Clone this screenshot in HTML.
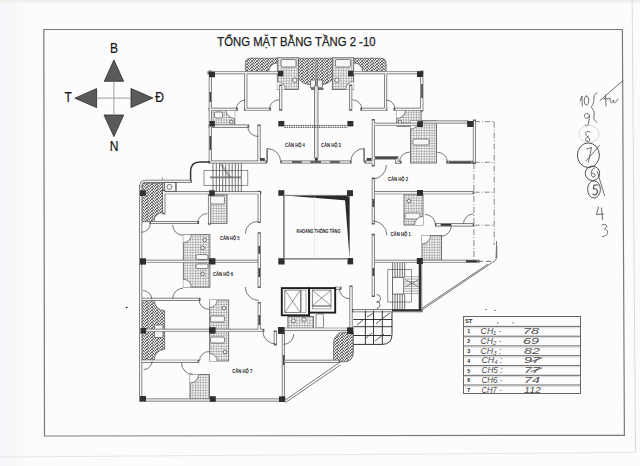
<!DOCTYPE html>
<html><head><meta charset="utf-8"><style>
html,body{margin:0;padding:0;background:#fcfcfd;}
svg{display:block;}
text{font-family:"Liberation Sans",sans-serif;}
</style></head><body>
<svg width="640" height="466" viewBox="0 0 640 466">
<defs>
<pattern id="hb" width="5" height="3" patternUnits="userSpaceOnUse">
<rect width="5" height="3" fill="#f6f6f6"/><path d="M-0.2,3.2 L2.7,-0.2 M2.3,1.3 L5.2,4.7 M2.3,-1.7 L5.2,1.7" fill="none" stroke="#262626" stroke-width="0.95"/>
</pattern>
<pattern id="tile" width="2.6" height="2.6" patternUnits="userSpaceOnUse">
<rect width="2.6" height="2.6" fill="#f2f2f2"/><path d="M0,0 H2.6 M0,0 V2.6" fill="none" stroke="#4a4a4a" stroke-width="0.55"/>
</pattern>
</defs>
<defs><linearGradient id="lg" x1="0" x2="1" y1="0" y2="0"><stop offset="0" stop-color="#f4f5f8"/><stop offset="1" stop-color="#fcfcfd"/></linearGradient></defs>
<rect width="640" height="466" fill="#fcfcfd"/>
<rect width="30" height="466" fill="url(#lg)"/>
<rect width="640" height="2.5" fill="#f1efeb"/>
<line x1="632.2" y1="0" x2="635.5" y2="452.5" stroke="#dcdcdc" stroke-width="1"/>
<line x1="0" y1="457" x2="635.5" y2="452.5" stroke="#e6e6e6" stroke-width="1"/>
<polygon points="43.8,29.5 622.4,29.5 624.4,435.3 44.5,436" fill="none" stroke="#7a7a7a" stroke-width="1.2"/>
<text x="217.3" y="45.9" font-family="Liberation Sans" font-size="13.3" fill="#202020" textLength="158.2" lengthAdjust="spacingAndGlyphs" stroke="#202020" stroke-width="0.25">TỔNG MẶT BẰNG TẦNG 2 -10</text>
<g fill="#5a5a5a" stroke="#2a2a2a" stroke-width="0.8" stroke-linejoin="round">
<polygon points="113.9,59.9 104.3,81.3 123.6,81.3"/>
<polygon points="113.9,136.6 104,115 123.7,115"/>
<polygon points="74.9,98.2 96.6,88.6 96.6,107.6"/>
<polygon points="152.8,98 131,88.5 131,107.6"/>
</g>
<line x1="113.9" y1="81" x2="113.9" y2="115" stroke="#9a9a9a" stroke-width="1"/>
<line x1="96.7" y1="98.1" x2="131" y2="98.1" stroke="#9a9a9a" stroke-width="1"/>
<text transform="translate(114.05,52.7) scale(0.86,1)" font-family="Liberation Sans" font-size="14" fill="#151515" text-anchor="middle" stroke="#151515" stroke-width="0.2">B</text>
<text transform="translate(68.1,102.3) scale(0.86,1)" font-family="Liberation Sans" font-size="14" fill="#151515" text-anchor="middle" stroke="#151515" stroke-width="0.2">T</text>
<text transform="translate(159.6,102.4) scale(0.86,1)" font-family="Liberation Sans" font-size="14" fill="#151515" text-anchor="middle" stroke="#151515" stroke-width="0.2">Đ</text>
<text transform="translate(114.05,150.7) scale(0.86,1)" font-family="Liberation Sans" font-size="14" fill="#151515" text-anchor="middle" stroke="#151515" stroke-width="0.2">N</text>
<path d="M245.3,71.6 V63.4 Q245.3,58.2 250.5,58.2 H277.3 V63 A8.6,8.6 0 0 0 268.7,71.6 Z" fill="url(#hb)" stroke="#555" stroke-width="0.7"/>
<path d="M386.1,71.6 V63.4 Q386.1,58.2 380.9,58.2 H354.1 V63 A8.6,8.6 0 0 1 362.7,71.6 Z" fill="url(#hb)" stroke="#555" stroke-width="0.7"/>
<path d="M298.5,58.2 H332.9 V78.9 Q328,84.5 322.3,84.5 H309.1 Q303.4,84.5 298.5,78.9 Z" fill="url(#hb)" stroke="#555" stroke-width="0.7"/>
<line x1="316" y1="58.5" x2="316" y2="84" stroke="#888" stroke-width="0.8"/>
<path d="M141.3,221.7 V186.5 Q141.3,183 145,183 H163 V212.5 A9,9 0 0 0 154,221.7 Z" fill="url(#hb)" stroke="#555" stroke-width="0.7"/>
<path d="M140.8,300 H154.4 A10.2,10.2 0 0 0 164.6,310.6 V349.4 A10.2,10.2 0 0 0 154.4,360 H140.8 Z" fill="url(#hb)" stroke="#555" stroke-width="0.7"/>
<path d="M341.6,332.3 H353.4 V352.2 Q353.4,361.8 343.8,361.8 H333.6 V341.4 Q336,333.5 341.6,332.3 Z" fill="url(#hb)" stroke="#555" stroke-width="0.7"/>
<rect x="154.5" y="325" width="8.5" height="12.5" fill="#f4f4f4" stroke="#555" stroke-width="0.7"/>
<rect x="310.4" y="80" width="5" height="7.6" fill="#f4f4f4" stroke="#555" stroke-width="0.7"/>
<rect x="317.3" y="80" width="5" height="7.6" fill="#f4f4f4" stroke="#555" stroke-width="0.7"/>
<rect x="311" y="88.3" width="12.5" height="1.4" fill="#333"/>
<rect x="315.3" y="89.5" width="1.4" height="5" fill="#333"/>
<rect x="164.4" y="182.5" width="11.8" height="8.8" fill="#fafafa" stroke="#555" stroke-width="0.8"/>
<line x1="175.6" y1="183" x2="175.6" y2="191" stroke="#888" stroke-width="1.2"/>
<rect x="210.5" y="109.5" width="24.3" height="16.8" fill="url(#tile)" stroke="#555" stroke-width="0.8"/>
<rect x="396.8" y="109.5" width="24.3" height="16.8" fill="url(#tile)" stroke="#555" stroke-width="0.8"/>
<rect x="277.3" y="57.8" width="21.2" height="31.7" fill="url(#tile)" stroke="#555" stroke-width="0.8"/>
<rect x="332.3" y="57.8" width="21.4" height="31.7" fill="url(#tile)" stroke="#555" stroke-width="0.8"/>
<rect x="410.5" y="121" width="26" height="42" fill="url(#tile)" stroke="#555" stroke-width="0.8"/>
<rect x="404" y="194" width="19" height="31" fill="url(#tile)" stroke="#555" stroke-width="0.8"/>
<rect x="422" y="235.4" width="19.6" height="24.8" fill="url(#tile)" stroke="#555" stroke-width="0.8"/>
<rect x="209.8" y="194" width="17.2" height="29.3" fill="url(#tile)" stroke="#555" stroke-width="0.8"/>
<rect x="183.3" y="234.7" width="26.6" height="52.5" fill="url(#tile)" stroke="#555" stroke-width="0.8"/>
<rect x="209.7" y="300" width="19" height="61" fill="url(#tile)" stroke="#555" stroke-width="0.8"/>
<rect x="190" y="374.5" width="19.5" height="25.5" fill="url(#tile)" stroke="#555" stroke-width="0.8"/>
<rect x="287.9" y="316.4" width="25.6" height="13.1" fill="url(#tile)" stroke="#555" stroke-width="0.8"/>
<rect x="281" y="59.5" width="15" height="7.5" fill="#f7f7f7" stroke="#555" stroke-width="0.7" rx="1.5"/>
<rect x="335.5" y="59.5" width="15" height="7.5" fill="#f7f7f7" stroke="#555" stroke-width="0.7" rx="1.5"/>
<rect x="413" y="139" width="16" height="6" fill="#f7f7f7" stroke="#555" stroke-width="0.7" rx="1.5"/>
<rect x="210.5" y="316" width="14" height="6" fill="#f7f7f7" stroke="#555" stroke-width="0.7" rx="1.5"/>
<rect x="210.5" y="337" width="14" height="6" fill="#f7f7f7" stroke="#555" stroke-width="0.7" rx="1.5"/>
<rect x="196" y="254.6" width="12" height="4.9" fill="#f7f7f7" stroke="#555" stroke-width="0.7" rx="1.5"/>
<rect x="196" y="264" width="12" height="4.6" fill="#f7f7f7" stroke="#555" stroke-width="0.7" rx="1.5"/>
<rect x="210.5" y="196" width="14" height="8" fill="#f7f7f7" stroke="#555" stroke-width="0.7" rx="1.5"/>
<rect x="405" y="213" width="15" height="6" fill="#f7f7f7" stroke="#555" stroke-width="0.7" rx="1.5"/>
<rect x="316" y="314" width="7.5" height="14" fill="#f7f7f7" stroke="#555" stroke-width="0.7" rx="1.5"/>
<rect x="214.5" y="112" width="8" height="6" fill="#f7f7f7" stroke="#555" stroke-width="0.7" rx="1.5"/>
<circle cx="294.8" cy="80.1" r="2.2" fill="#f7f7f7" stroke="#444" stroke-width="0.7"/>
<circle cx="337" cy="80.1" r="2.2" fill="#f7f7f7" stroke="#444" stroke-width="0.7"/>
<circle cx="169.4" cy="186.9" r="2.5" fill="#f7f7f7" stroke="#444" stroke-width="0.7"/>
<circle cx="293.5" cy="320.8" r="2" fill="#f7f7f7" stroke="#444" stroke-width="0.7"/>
<circle cx="304" cy="319.5" r="2" fill="#f7f7f7" stroke="#444" stroke-width="0.7"/>
<circle cx="204.6" cy="240" r="1.8" fill="#f7f7f7" stroke="#444" stroke-width="0.7"/>
<circle cx="202.6" cy="248" r="1.8" fill="#f7f7f7" stroke="#444" stroke-width="0.7"/>
<circle cx="202.6" cy="274" r="1.8" fill="#f7f7f7" stroke="#444" stroke-width="0.7"/>
<circle cx="225" cy="352" r="1.8" fill="#f7f7f7" stroke="#444" stroke-width="0.7"/>
<circle cx="425" cy="241" r="1.8" fill="#f7f7f7" stroke="#444" stroke-width="0.7"/>
<circle cx="409" cy="201" r="1.8" fill="#f7f7f7" stroke="#444" stroke-width="0.7"/>
<circle cx="224" cy="308" r="1.8" fill="#f7f7f7" stroke="#444" stroke-width="0.7"/>
<circle cx="231.5" cy="122" r="1.8" fill="#f7f7f7" stroke="#444" stroke-width="0.7"/>
<circle cx="400" cy="122" r="1.8" fill="#f7f7f7" stroke="#444" stroke-width="0.7"/>
<path d="M234.8,109.5 L234.8,118.5 A9,9 0 0 1 225.8,109.5 Z" fill="#fcfcfd" stroke="none"/>
<path d="M234.8,118.5 A9,9 0 0 1 225.8,109.5" fill="none" stroke="#555" stroke-width="0.7"/>
<path d="M396.6,109.5 L396.6,118.5 A9,9 0 0 0 405.6,109.5 Z" fill="#fcfcfd" stroke="none"/>
<path d="M396.6,118.5 A9,9 0 0 0 405.6,109.5" fill="none" stroke="#555" stroke-width="0.7"/>
<path d="M422.0,235.4 L430.5,235.4 A8.5,8.5 0 0 1 422.0,243.9 Z" fill="#fcfcfd" stroke="none"/>
<path d="M430.5,235.4 A8.5,8.5 0 0 1 422.0,243.9" fill="none" stroke="#555" stroke-width="0.7"/>
<path d="M190.0,374.5 L198.5,374.5 A8.5,8.5 0 0 1 190.0,383.0 Z" fill="#fcfcfd" stroke="none"/>
<path d="M198.5,374.5 A8.5,8.5 0 0 1 190.0,383.0" fill="none" stroke="#555" stroke-width="0.7"/>
<path d="M277.3,89.5 L277.3,81.5 A8,8 0 0 1 285.3,89.5 Z" fill="#fcfcfd" stroke="none"/>
<path d="M277.3,81.5 A8,8 0 0 1 285.3,89.5" fill="none" stroke="#555" stroke-width="0.7"/>
<path d="M353.7,89.5 L353.7,81.5 A8,8 0 0 0 345.7,89.5 Z" fill="#fcfcfd" stroke="none"/>
<path d="M353.7,81.5 A8,8 0 0 0 345.7,89.5" fill="none" stroke="#555" stroke-width="0.7"/>
<path d="M209.7,300.0 L217.2,300.0 A7.5,7.5 0 0 1 209.7,307.5 Z" fill="#fcfcfd" stroke="none"/>
<path d="M217.2,300.0 A7.5,7.5 0 0 1 209.7,307.5" fill="none" stroke="#555" stroke-width="0.7"/>
<path d="M209.7,361.0 L217.2,361.0 A7.5,7.5 0 0 0 209.7,353.5 Z" fill="#fcfcfd" stroke="none"/>
<path d="M217.2,361.0 A7.5,7.5 0 0 0 209.7,353.5" fill="none" stroke="#555" stroke-width="0.7"/>
<path d="M183.3,234.7 L191.3,234.7 A8,8 0 0 1 183.3,242.7 Z" fill="#fcfcfd" stroke="none"/>
<path d="M191.3,234.7 A8,8 0 0 1 183.3,242.7" fill="none" stroke="#555" stroke-width="0.7"/>
<path d="M183.3,287.2 L191.3,287.2 A8,8 0 0 0 183.3,279.2 Z" fill="#fcfcfd" stroke="none"/>
<path d="M191.3,287.2 A8,8 0 0 0 183.3,279.2" fill="none" stroke="#555" stroke-width="0.7"/>
<path d="M423.0,225.0 L423.0,216.5 A8.5,8.5 0 0 0 414.5,225.0 Z" fill="#fcfcfd" stroke="none"/>
<path d="M423.0,216.5 A8.5,8.5 0 0 0 414.5,225.0" fill="none" stroke="#555" stroke-width="0.7"/>
<path d="M410.5,121.0 L418.5,121.0 A8,8 0 0 1 410.5,129.0 Z" fill="#fcfcfd" stroke="none"/>
<path d="M418.5,121.0 A8,8 0 0 1 410.5,129.0" fill="none" stroke="#555" stroke-width="0.7"/>
<path d="M287.9,316.4 L288.0,316.4 A0.1,0.1 0 0 1 287.9,316.5 Z" fill="#fcfcfd" stroke="none"/>
<path d="M288.0,316.4 A0.1,0.1 0 0 1 287.9,316.5" fill="none" stroke="#555" stroke-width="0.7"/>
<path d="M209.0,72.7L278.0,72.7 M353.0,72.7L422.0,72.7 M210.3,72.0L210.3,162.0 M421.8,72.0L421.8,110.0 M245.8,73.0L245.8,109.3 M385.6,73.0L385.6,109.3 M280.7,86.0L280.7,109.3 M350.7,86.0L350.7,109.3 M210.0,109.3L236.4,109.3 M421.4,109.3L395.0,109.3 M245.6,109.3L269.5,109.3 M385.8,109.3L361.9,109.3 M210.0,126.1L247.7,126.1 M259.0,126.0L259.0,161.5 M210.0,162.0L265.5,162.0 M282.0,162.0L350.0,162.0 M366.0,162.0L373.0,162.0 M373.3,120.5L373.3,165.0 M373.3,179.0L373.3,223.0 M373.3,235.4L373.3,295.4 M373.8,124.3L417.0,124.3 M373.8,157.9L396.8,157.9 M396.8,157.9L396.8,162.3 M396.8,162.3L400.0,162.3 M423.0,122.0L467.0,122.0 M447.8,162.3L472.0,162.3 M474.4,121.0L474.4,162.5 M374.7,192.8L472.6,192.8 M436.5,224.9L472.6,224.9 M374.7,261.3L478.0,261.3 M420.6,264.0L420.6,310.4 M353.3,310.6L421.0,310.6 M163.0,192.8L259.8,192.8 M259.2,192.4L259.2,221.5 M259.2,233.7L259.2,286.5 M259.2,303.5L259.2,330.0 M140.7,186.5L140.7,400.0 M163.8,191.0L163.8,212.8 M151.0,222.5L197.6,222.5 M209.5,196.0L209.5,223.3 M146.0,261.3L257.5,261.3 M142.0,299.4L199.0,299.4 M146.0,330.3L262.8,330.3 M142.0,361.2L197.6,361.2 M146.0,400.0L279.0,400.0 M283.4,334.0L283.4,396.4 M275.3,332.0L275.3,344.0 M351.0,287.0L351.0,328.0 M336.0,288.2L340.0,288.2 M284.0,329.2L347.0,329.2 M284.4,361.4L338.7,361.4" fill="none" stroke="#5c5c5c" stroke-width="3.1" stroke-linecap="square"/>
<path d="M209.0,72.7L278.0,72.7 M353.0,72.7L422.0,72.7 M210.3,72.0L210.3,162.0 M421.8,72.0L421.8,110.0 M245.8,73.0L245.8,109.3 M385.6,73.0L385.6,109.3 M280.7,86.0L280.7,109.3 M350.7,86.0L350.7,109.3 M210.0,109.3L236.4,109.3 M421.4,109.3L395.0,109.3 M245.6,109.3L269.5,109.3 M385.8,109.3L361.9,109.3 M210.0,126.1L247.7,126.1 M259.0,126.0L259.0,161.5 M210.0,162.0L265.5,162.0 M282.0,162.0L350.0,162.0 M366.0,162.0L373.0,162.0 M373.3,120.5L373.3,165.0 M373.3,179.0L373.3,223.0 M373.3,235.4L373.3,295.4 M373.8,124.3L417.0,124.3 M373.8,157.9L396.8,157.9 M396.8,157.9L396.8,162.3 M396.8,162.3L400.0,162.3 M423.0,122.0L467.0,122.0 M447.8,162.3L472.0,162.3 M474.4,121.0L474.4,162.5 M374.7,192.8L472.6,192.8 M436.5,224.9L472.6,224.9 M374.7,261.3L478.0,261.3 M420.6,264.0L420.6,310.4 M353.3,310.6L421.0,310.6 M163.0,192.8L259.8,192.8 M259.2,192.4L259.2,221.5 M259.2,233.7L259.2,286.5 M259.2,303.5L259.2,330.0 M140.7,186.5L140.7,400.0 M163.8,191.0L163.8,212.8 M151.0,222.5L197.6,222.5 M209.5,196.0L209.5,223.3 M146.0,261.3L257.5,261.3 M142.0,299.4L199.0,299.4 M146.0,330.3L262.8,330.3 M142.0,361.2L197.6,361.2 M146.0,400.0L279.0,400.0 M283.4,334.0L283.4,396.4 M275.3,332.0L275.3,344.0 M351.0,287.0L351.0,328.0 M336.0,288.2L340.0,288.2 M284.0,329.2L347.0,329.2 M284.4,361.4L338.7,361.4" fill="none" stroke="#f3f3f3" stroke-width="1.7" stroke-linecap="butt"/>
<rect x="209" y="71.8" width="6" height="5.4" fill="#2f2f2f"/>
<rect x="417" y="71.2" width="6" height="5.8" fill="#2f2f2f"/>
<rect x="209.5" y="121" width="5.4" height="5.6" fill="#2f2f2f"/>
<rect x="278.3" y="121" width="6" height="5.4" fill="#2f2f2f"/>
<rect x="347.4" y="121" width="6" height="5.4" fill="#2f2f2f"/>
<rect x="277.9" y="70.8" width="5.4" height="5.6" fill="#2f2f2f"/>
<rect x="348.1" y="70.8" width="5.4" height="5.6" fill="#2f2f2f"/>
<rect x="417.2" y="121.3" width="5.7" height="5.7" fill="#2f2f2f"/>
<rect x="467.2" y="121" width="6.4" height="6" fill="#2f2f2f"/>
<rect x="140" y="190.3" width="5.8" height="5.6" fill="#2f2f2f"/>
<rect x="209.2" y="190.2" width="5.6" height="5.6" fill="#2f2f2f"/>
<rect x="278.3" y="190.2" width="6" height="5.6" fill="#2f2f2f"/>
<rect x="347" y="190.2" width="6" height="6" fill="#2f2f2f"/>
<rect x="417" y="190" width="6" height="5.8" fill="#2f2f2f"/>
<rect x="140" y="258.3" width="6" height="6.3" fill="#2f2f2f"/>
<rect x="208.8" y="258.2" width="6.6" height="6.3" fill="#2f2f2f"/>
<rect x="278.3" y="258.2" width="6.3" height="6.3" fill="#2f2f2f"/>
<rect x="347.5" y="258" width="5.6" height="6.4" fill="#2f2f2f"/>
<rect x="416.8" y="258" width="6" height="6" fill="#2f2f2f"/>
<rect x="140.5" y="328" width="5.6" height="5.6" fill="#2f2f2f"/>
<rect x="209" y="327.2" width="6.6" height="6.4" fill="#2f2f2f"/>
<rect x="278" y="327" width="6.6" height="6.9" fill="#2f2f2f"/>
<rect x="347.1" y="327.4" width="6.3" height="6.6" fill="#2f2f2f"/>
<rect x="140" y="396" width="6" height="5.6" fill="#2f2f2f"/>
<rect x="209.8" y="396.2" width="6" height="5.6" fill="#2f2f2f"/>
<rect x="279" y="396.4" width="6.3" height="5.6" fill="#2f2f2f"/>
<rect x="315" y="156" width="2.8" height="4.7" fill="#2f2f2f"/>
<rect x="315.2" y="89.5" width="1.6" height="5" fill="#2f2f2f"/>
<path d="M236.3,109.3 A9.3,9.3 0 0 1 245.6,100.0" fill="none" stroke="#555" stroke-width="0.8"/>
<path d="M269.5,109.3 A9.5,9.5 0 0 1 279.0,99.8" fill="none" stroke="#555" stroke-width="0.8"/>
<path d="M395.1,109.3 A9.3,9.3 0 0 0 385.8,100.0" fill="none" stroke="#555" stroke-width="0.8"/>
<path d="M361.9,109.3 A9.5,9.5 0 0 0 352.4,99.8" fill="none" stroke="#555" stroke-width="0.8"/>
<path d="M247.7,126.0 A10.5,10.5 0 0 0 258.2,136.5" fill="none" stroke="#555" stroke-width="0.8"/>
<path d="M267.2,148.5 A13.5,13.5 0 0 1 280.7,162.0" fill="none" stroke="#555" stroke-width="0.8"/>
<path d="M267.2,162.0 L267.2,148.5" stroke="#444" stroke-width="1.6" fill="none"/><path d="M267.2,162.0 L267.2,148.5" stroke="#eee" stroke-width="0.5" fill="none"/>
<path d="M364.2,148.5 A13.5,13.5 0 0 0 350.7,162.0" fill="none" stroke="#555" stroke-width="0.8"/>
<path d="M364.2,162.0 L364.2,148.5" stroke="#444" stroke-width="1.6" fill="none"/><path d="M364.2,162.0 L364.2,148.5" stroke="#eee" stroke-width="0.5" fill="none"/>
<path d="M197.6,223.3 A9.7,9.7 0 0 1 207.3,213.6" fill="none" stroke="#555" stroke-width="0.8"/>
<path d="M150.3,223.3 A9,9 0 0 1 141.3,232.3" fill="none" stroke="#555" stroke-width="0.8"/>
<path d="M172.7,225.0 A10.3,10.3 0 0 0 183.0,235.3" fill="none" stroke="#555" stroke-width="0.8"/>
<path d="M172.7,298.6 A10.3,10.3 0 0 1 183.0,288.3" fill="none" stroke="#555" stroke-width="0.8"/>
<path d="M143.0,290.6 A8.8,8.8 0 0 1 151.8,299.4" fill="none" stroke="#555" stroke-width="0.8"/>
<path d="M199.0,299.4 A10,10 0 0 0 209.0,309.4" fill="none" stroke="#555" stroke-width="0.8"/>
<path d="M199.5,361.0 A9.5,9.5 0 0 1 209.0,351.5" fill="none" stroke="#555" stroke-width="0.8"/>
<path d="M152.2,361.0 A8.5,8.5 0 0 1 143.7,369.5" fill="none" stroke="#555" stroke-width="0.8"/>
<path d="M181.5,363.0 A11.3,11.3 0 0 0 192.8,374.3" fill="none" stroke="#555" stroke-width="0.8"/>
<path d="M258.8,300.5 A13.5,13.5 0 0 1 245.3,287.0" fill="none" stroke="#555" stroke-width="0.8"/>
<path d="M262.8,331.0 A12.9,12.9 0 0 0 275.7,343.9" fill="none" stroke="#555" stroke-width="0.8"/>
<path d="M257.5,221.5 A12.2,12.2 0 0 0 245.3,233.7" fill="none" stroke="#555" stroke-width="0.8"/>
<path d="M293.8,334.0 A10.4,10.4 0 0 1 283.4,344.4" fill="none" stroke="#555" stroke-width="0.8"/>
<path d="M339.3,288.3 A10.5,10.5 0 0 0 349.8,298.8" fill="none" stroke="#555" stroke-width="0.8"/>
<path d="M386.4,165.0 A14,14 0 0 1 372.4,179.0" fill="none" stroke="#555" stroke-width="0.8"/>
<path d="M372.4,220.9 A14.5,14.5 0 0 1 386.9,235.4" fill="none" stroke="#555" stroke-width="0.8"/>
<path d="M425.0,214.5 A10.5,10.5 0 0 1 435.5,225.0" fill="none" stroke="#555" stroke-width="0.8"/>
<path d="M451.3,225.7 A10.6,10.6 0 0 1 440.7,236.3" fill="none" stroke="#555" stroke-width="0.8"/>
<path d="M463.5,224.0 A10,10 0 0 1 473.5,214.0" fill="none" stroke="#555" stroke-width="0.8"/>
<path d="M399.5,162.3 A10.2,10.2 0 0 1 409.7,152.1" fill="none" stroke="#555" stroke-width="0.8"/>
<path d="M437.4,152.3 A10,10 0 0 1 447.4,162.3" fill="none" stroke="#555" stroke-width="0.8"/>
<path d="M376.5,294.5 A4,4 0 0 1 376.5,302.5" fill="none" stroke="#555" stroke-width="0.8"/>
<path d="M376.5,301.5 A3.5,3.5 0 0 1 376.5,308.5" fill="none" stroke="#555" stroke-width="0.8"/>
<rect x="204" y="170.4" width="43.8" height="15.1" fill="none" stroke="#666" stroke-width="0.7"/>
<line x1="213" y1="163.2" x2="213" y2="191.9" stroke="#444" stroke-width="0.75"/>
<line x1="216.3" y1="163.2" x2="216.3" y2="191.9" stroke="#444" stroke-width="0.75"/>
<line x1="219.5" y1="163.2" x2="219.5" y2="191.9" stroke="#444" stroke-width="0.75"/>
<line x1="222.7" y1="163.2" x2="222.7" y2="191.9" stroke="#444" stroke-width="0.75"/>
<line x1="225.7" y1="163.2" x2="225.7" y2="191.9" stroke="#444" stroke-width="0.75"/>
<line x1="229.1" y1="163.2" x2="229.1" y2="191.9" stroke="#444" stroke-width="0.75"/>
<line x1="232.2" y1="163.2" x2="232.2" y2="191.9" stroke="#444" stroke-width="0.75"/>
<line x1="235.3" y1="163.2" x2="235.3" y2="191.9" stroke="#444" stroke-width="0.75"/>
<line x1="238.3" y1="163.2" x2="238.3" y2="191.9" stroke="#444" stroke-width="0.75"/>
<line x1="241.3" y1="163.2" x2="241.3" y2="191.9" stroke="#444" stroke-width="0.75"/>
<rect x="210" y="176.5" width="31" height="1.7" fill="#777"/>
<path d="M219.9,163.6 L229.3,177.3 M221.3,163.4 L230.6,177" stroke="#555" stroke-width="0.6" fill="none"/>
<path d="M210.3,161.9 H200 Q190.6,161.9 190.6,171.5 V180" fill="none" stroke="#333" stroke-width="1.5"/>
<path d="M191.5,181.3 H146 Q140.8,181.3 140.8,186.5" fill="none" stroke="#5c5c5c" stroke-width="2.9"/>
<path d="M191.5,181.3 H146 Q140.8,181.3 140.8,186.5" fill="none" stroke="#f1f1f1" stroke-width="1.5"/>
<path d="M190.6,180 L191.8,182.5" fill="none" stroke="#333" stroke-width="1"/>
<line x1="162.3" y1="177" x2="162.3" y2="180" stroke="#666" stroke-width="0.6"/>
<rect x="387.8" y="269.4" width="23.7" height="32.6" fill="none" stroke="#666" stroke-width="0.7"/>
<line x1="392.6" y1="262.8" x2="392.6" y2="277.3" stroke="#444" stroke-width="0.75"/>
<line x1="392.6" y1="294.1" x2="392.6" y2="309.7" stroke="#444" stroke-width="0.75"/>
<line x1="395" y1="262.8" x2="395" y2="277.3" stroke="#444" stroke-width="0.75"/>
<line x1="395" y1="294.1" x2="395" y2="309.7" stroke="#444" stroke-width="0.75"/>
<line x1="397.4" y1="262.8" x2="397.4" y2="277.3" stroke="#444" stroke-width="0.75"/>
<line x1="397.4" y1="294.1" x2="397.4" y2="309.7" stroke="#444" stroke-width="0.75"/>
<line x1="399.9" y1="262.8" x2="399.9" y2="277.3" stroke="#444" stroke-width="0.75"/>
<line x1="399.9" y1="294.1" x2="399.9" y2="309.7" stroke="#444" stroke-width="0.75"/>
<line x1="402.3" y1="262.8" x2="402.3" y2="277.3" stroke="#444" stroke-width="0.75"/>
<line x1="402.3" y1="294.1" x2="402.3" y2="309.7" stroke="#444" stroke-width="0.75"/>
<line x1="404.7" y1="262.8" x2="404.7" y2="277.3" stroke="#444" stroke-width="0.75"/>
<line x1="404.7" y1="294.1" x2="404.7" y2="309.7" stroke="#444" stroke-width="0.75"/>
<line x1="404.7" y1="276.7" x2="418.5" y2="276.7" stroke="#777" stroke-width="0.6"/>
<line x1="404.7" y1="279.1" x2="418.5" y2="279.1" stroke="#777" stroke-width="0.6"/>
<line x1="404.7" y1="281.5" x2="418.5" y2="281.5" stroke="#777" stroke-width="0.6"/>
<line x1="404.7" y1="283.9" x2="418.5" y2="283.9" stroke="#777" stroke-width="0.6"/>
<line x1="404.7" y1="286.3" x2="418.5" y2="286.3" stroke="#777" stroke-width="0.6"/>
<line x1="404.7" y1="288.7" x2="418.5" y2="288.7" stroke="#777" stroke-width="0.6"/>
<line x1="404.7" y1="291.1" x2="418.5" y2="291.1" stroke="#777" stroke-width="0.6"/>
<line x1="404.7" y1="293.5" x2="418.5" y2="293.5" stroke="#777" stroke-width="0.6"/>
<rect x="392.6" y="277.3" width="11.2" height="16.8" fill="#fafafa" stroke="#444" stroke-width="0.8"/>
<path d="M405.3,286.9 L418.5,279.7 M405.3,279.7 L418.5,286.9" stroke="#444" stroke-width="0.6" fill="none"/>
<rect x="418.7" y="264" width="2.4" height="47" fill="#333"/>
<rect x="392" y="309.4" width="29" height="2" fill="#333"/>
<path d="M285,195.4 L347.5,195.4 L347.5,200.6 Z" fill="#2a2a2a"/>
<path d="M344.8,196.4 L349.6,196.4 L349.6,258.3 Z" fill="#2a2a2a"/>
<line x1="314.5" y1="197" x2="314.5" y2="258" stroke="#e6e6e6" stroke-width="0.8"/>
<line x1="283.9" y1="196" x2="283.9" y2="258.5" stroke="#666" stroke-width="1.4"/>
<line x1="284" y1="195.4" x2="347" y2="195.4" stroke="#777" stroke-width="1.0"/>
<line x1="284.4" y1="258.9" x2="347.5" y2="258.9" stroke="#666" stroke-width="1.4"/>
<rect x="281.8" y="288.1" width="27.3" height="27.2" fill="none" stroke="#1e1e1e" stroke-width="1.9"/>
<rect x="309.1" y="288.1" width="26.1" height="24.5" fill="none" stroke="#1e1e1e" stroke-width="1.9"/>
<rect x="284.8" y="290.1" width="15.6" height="22.5" fill="none" stroke="#555" stroke-width="0.7"/>
<rect x="301.2" y="290.1" width="4.8" height="22.5" fill="none" stroke="#777" stroke-width="0.6"/>
<rect x="312.3" y="290.1" width="18.7" height="15.7" fill="none" stroke="#555" stroke-width="0.7"/>
<rect x="312.3" y="306.4" width="18.7" height="2.5" fill="none" stroke="#777" stroke-width="0.6"/>
<path d="M284.8,290.1 L300.4,312.6 M300.4,290.1 L284.8,312.6 M312.3,290.1 L331,305.8 M331,290.1 L312.3,305.8" stroke="#555" stroke-width="0.6" fill="none"/>
<path d="M392,311.5 V334.4 Q392,344.4 382,344.4 H353.3" fill="none" stroke="#333" stroke-width="1"/>
<path d="M365.4,310.6 V344.4 M373.5,310.6 V344.4 M382.3,310.6 V344.2 M353.3,319.5 H392 M353.3,326.7 H392 M353.3,335.5 H391" stroke="#222" stroke-width="0.9" fill="none"/>
<path d="M357,325 L363,320 M367,317 L374,313 M376,324 L383,318 M366,338 L372,333 M375,341 L384,334 M383,318 L390,313" stroke="#333" stroke-width="0.8" fill="none"/>
<path d="M496.5,241 V257 Q496.5,261 492.2,262.6 L421,310.6 M487.9,264.2 L421.5,308.6" fill="none" stroke="#555" stroke-width="0.8"/>
<path d="M496,246 L497.3,246 L497.3,258 L495.5,258 Z" fill="#777"/>
<path d="M338.7,363 L284,401 M340.5,364.8 L285.5,402.6" fill="none" stroke="#555" stroke-width="0.8"/>
<line x1="475" y1="121.6" x2="494.2" y2="121.6" stroke="#666" stroke-width="0.8" stroke-dasharray="5,2,1,2"/>
<line x1="494.2" y1="121.6" x2="494.2" y2="245" stroke="#666" stroke-width="0.8" stroke-dasharray="6,2,1,2"/>
<line x1="473.9" y1="163" x2="473.9" y2="260" stroke="#666" stroke-width="0.8" stroke-dasharray="6,2,1,2"/>
<line x1="474.6" y1="162.3" x2="494.2" y2="162.3" stroke="#666" stroke-width="0.8" stroke-dasharray="5,2,1,2"/>
<line x1="474.6" y1="192.2" x2="494.2" y2="192.2" stroke="#666" stroke-width="0.8" stroke-dasharray="5,2,1,2"/>
<line x1="474.6" y1="225.2" x2="494.2" y2="225.2" stroke="#666" stroke-width="0.8" stroke-dasharray="5,2,1,2"/>
<line x1="478" y1="261.3" x2="493" y2="261.3" stroke="#666" stroke-width="0.9" stroke-dasharray="5,3"/>
<rect x="466" y="260.3" width="11.5" height="2" fill="#333"/>
<rect x="440.7" y="224" width="10.6" height="1.8" fill="#333"/>
<rect x="292" y="161.2" width="9.7" height="1.6" fill="#444"/>
<rect x="310.5" y="161.2" width="10.5" height="1.6" fill="#444"/>
<rect x="330" y="161.2" width="9.7" height="1.6" fill="#444"/>
<rect x="258.3" y="246" width="1.8" height="7.8" fill="#444"/>
<rect x="260" y="158" width="4.8" height="2.7" fill="#444"/>
<rect x="366.6" y="158" width="4.8" height="2.7" fill="#444"/>
<rect x="258.3" y="268" width="1.8" height="9" fill="#444"/>
<rect x="209.5" y="136" width="1.6" height="14" fill="#444"/>
<rect x="375" y="157" width="22" height="1.9" fill="#444"/>
<rect x="448.6" y="161.4" width="23" height="1.9" fill="#444"/>
<rect x="209.5" y="92" width="1.6" height="10" fill="#444"/>
<rect x="421.2" y="84" width="1.6" height="14" fill="#444"/>
<rect x="372.4" y="199" width="1.8" height="8" fill="#444"/>
<rect x="372.4" y="268" width="1.8" height="8" fill="#444"/>
<rect x="258.5" y="315" width="1.6" height="10" fill="#444"/>
<rect x="283" y="355" width="1.5" height="10" fill="#444"/>
<text x="285.1" y="147.1" font-family="Liberation Sans" font-size="5.9" font-weight="bold" fill="#1a1a1a" textLength="19.8" lengthAdjust="spacingAndGlyphs">CĂN HỘ 4</text>
<text x="321.1" y="147.1" font-family="Liberation Sans" font-size="5.9" font-weight="bold" fill="#1a1a1a" textLength="19.8" lengthAdjust="spacingAndGlyphs">CĂN HỘ 3</text>
<text x="388" y="180.8" font-family="Liberation Sans" font-size="5.9" font-weight="bold" fill="#1a1a1a" textLength="20" lengthAdjust="spacingAndGlyphs">CĂN HỘ 2</text>
<text x="390.5" y="236.3" font-family="Liberation Sans" font-size="5.9" font-weight="bold" fill="#1a1a1a" textLength="20.3" lengthAdjust="spacingAndGlyphs">CĂN HỘ 1</text>
<text x="220" y="240.2" font-family="Liberation Sans" font-size="5.9" font-weight="bold" fill="#1a1a1a" textLength="19.5" lengthAdjust="spacingAndGlyphs">CĂN HỘ 5</text>
<text x="213" y="276" font-family="Liberation Sans" font-size="5.9" font-weight="bold" fill="#1a1a1a" textLength="20" lengthAdjust="spacingAndGlyphs">CĂN HỘ 6</text>
<text x="232.2" y="373" font-family="Liberation Sans" font-size="5.9" font-weight="bold" fill="#1a1a1a" textLength="20.1" lengthAdjust="spacingAndGlyphs">CĂN HỘ 7</text>
<text x="296.4" y="232.6" font-family="Liberation Sans" font-size="4.8" font-weight="bold" fill="#1a1a1a" textLength="44" lengthAdjust="spacingAndGlyphs">KHOẢNG THÔNG TẦNG</text>
<rect x="314.4" y="86" width="3.6" height="72" fill="#e6e6e6" stroke="#666" stroke-width="0.8"/>
<line x1="284.4" y1="125.6" x2="347.4" y2="125.6" stroke="#444" stroke-width="1.0" stroke-dasharray="1.5,0.8"/>
<line x1="284.4" y1="127.3" x2="347.4" y2="127.3" stroke="#444" stroke-width="1.0" stroke-dasharray="1.5,0.8"/>
<path d="M580,101 L582,96 L582.3,106" fill="none" stroke="#4a4a4a" stroke-width="0.8" stroke-linecap="round" stroke-linejoin="round"/>
<path d="M586.5,96 C583.5,96 583.5,105 586.5,105 C589.5,105 589.5,96 586.5,96 Z" fill="none" stroke="#4a4a4a" stroke-width="0.8" stroke-linecap="round" stroke-linejoin="round"/>
<path d="M597,93 C592,94 595,100 593,104 C592,106 591,107 591.5,107.5 C593,109 595,112 594,116 C593,119 595,121 597,122.5" fill="none" stroke="#4a4a4a" stroke-width="0.8" stroke-linecap="round" stroke-linejoin="round"/>
<path d="M589.5,115.5 C588,112 584,113 584.5,116.5 C585,119 589,118.5 589.5,115.5 L588.5,124 C588,126 586,126 585,125" fill="none" stroke="#4a4a4a" stroke-width="0.8" stroke-linecap="round" stroke-linejoin="round"/>
<path d="M600,100.5 L623,80.5" fill="none" stroke="#4a4a4a" stroke-width="0.8" stroke-linecap="round" stroke-linejoin="round"/>
<path d="M605.5,95 L606,106 M603.5,99 L609,98.5 M610,98 C610,104 612,104 613.5,100 C613.5,104 615,104 618,99" fill="none" stroke="#4a4a4a" stroke-width="0.8" stroke-linecap="round" stroke-linejoin="round"/>
<path d="M590,132 C586,130 584,134 587.5,136.5 C591,139 590,142 587,141.5 C584.5,141 585.5,137.5 588.5,136" fill="none" stroke="#4a4a4a" stroke-width="0.8" stroke-linecap="round" stroke-linejoin="round"/>
<ellipse cx="589" cy="134" rx="10" ry="8.5" fill="none" stroke="#c8c8c8" stroke-width="0.7"/>
<ellipse cx="588.4" cy="155.2" rx="11" ry="12.3" fill="none" stroke="#3e3e3e" stroke-width="0.9"/>
<path d="M586.5,149 L591.5,147.5 L588.5,162 M586,161 L599.5,145.5" fill="none" stroke="#4a4a4a" stroke-width="0.8" stroke-linecap="round" stroke-linejoin="round"/>
<ellipse cx="592.5" cy="173.3" rx="7.2" ry="7.2" fill="none" stroke="#3e3e3e" stroke-width="0.9"/>
<path d="M594.5,168 C591,168 590,176 593,177 C596,177.5 596,172.5 592.5,173.5" fill="none" stroke="#4a4a4a" stroke-width="0.8" stroke-linecap="round" stroke-linejoin="round"/>
<ellipse cx="594" cy="189.4" rx="6.4" ry="8.6" fill="none" stroke="#3e3e3e" stroke-width="0.9"/>
<path d="M598,185 L594,185 L593.5,189 C597,188 599,192 596,194.5 C595,195.5 593.5,195 593,194" fill="none" stroke="#4a4a4a" stroke-width="1.1" stroke-linecap="round" stroke-linejoin="round"/>
<path d="M597.3,171.6 L604.6,195.7" fill="none" stroke="#4a4a4a" stroke-width="0.8" stroke-linecap="round" stroke-linejoin="round"/>
<path d="M598.5,207 L596.5,214.5 L603.5,214 M601.5,208 L602.5,219.5" fill="none" stroke="#4a4a4a" stroke-width="0.8" stroke-linecap="round" stroke-linejoin="round"/>
<path d="M602,225 C606,223 609,226 604.5,229 C609,230 609,236 602.5,236.5" fill="none" stroke="#4a4a4a" stroke-width="0.8" stroke-linecap="round" stroke-linejoin="round"/>
<ellipse cx="126.6" cy="307.5" rx="1" ry="0.8" fill="#222"/>
<rect x="463.5" y="316.5" width="117" height="77" fill="none" stroke="#555" stroke-width="0.9"/>
<line x1="463.5" y1="326.4" x2="580.5" y2="326.4" stroke="#555" stroke-width="0.9"/>
<line x1="463.5" y1="327.7" x2="580.5" y2="327.7" stroke="#c8c8c8" stroke-width="0.7"/>
<line x1="463.5" y1="336.2" x2="580.5" y2="336.2" stroke="#555" stroke-width="0.9"/>
<line x1="463.5" y1="337.5" x2="580.5" y2="337.5" stroke="#c8c8c8" stroke-width="0.7"/>
<line x1="463.5" y1="345.9" x2="580.5" y2="345.9" stroke="#555" stroke-width="0.9"/>
<line x1="463.5" y1="347.2" x2="580.5" y2="347.2" stroke="#c8c8c8" stroke-width="0.7"/>
<line x1="463.5" y1="355.7" x2="580.5" y2="355.7" stroke="#555" stroke-width="0.9"/>
<line x1="463.5" y1="357.0" x2="580.5" y2="357.0" stroke="#c8c8c8" stroke-width="0.7"/>
<line x1="463.5" y1="365.6" x2="580.5" y2="365.6" stroke="#555" stroke-width="0.9"/>
<line x1="463.5" y1="366.90000000000003" x2="580.5" y2="366.90000000000003" stroke="#c8c8c8" stroke-width="0.7"/>
<line x1="463.5" y1="375.3" x2="580.5" y2="375.3" stroke="#555" stroke-width="0.9"/>
<line x1="463.5" y1="376.6" x2="580.5" y2="376.6" stroke="#c8c8c8" stroke-width="0.7"/>
<line x1="463.5" y1="385.0" x2="580.5" y2="385.0" stroke="#555" stroke-width="0.9"/>
<line x1="463.5" y1="386.3" x2="580.5" y2="386.3" stroke="#c8c8c8" stroke-width="0.7"/>
<rect x="485.5" y="309" width="1.3" height="1" fill="#555"/>
<rect x="494.5" y="310" width="1.3" height="1" fill="#555"/>
<text x="465.2" y="323.1" font-family="Liberation Sans" font-size="5.2" font-weight="bold" fill="#222">ST</text>
<rect x="471.3" y="319.6" width="1.5" height="0.6" fill="#444"/>
<rect x="497" y="322.4" width="1.4" height="1" fill="#555"/>
<rect x="512.3" y="322.4" width="1.4" height="1" fill="#555"/>
<text x="467.2" y="333.4" font-family="Liberation Sans" font-size="5.2" font-weight="bold" fill="#222">1</text>
<text x="467.2" y="343.2" font-family="Liberation Sans" font-size="5.2" font-weight="bold" fill="#222">2</text>
<text x="467.2" y="352.9" font-family="Liberation Sans" font-size="5.2" font-weight="bold" fill="#222">3</text>
<text x="467.2" y="362.7" font-family="Liberation Sans" font-size="5.2" font-weight="bold" fill="#222">4</text>
<text x="467.2" y="372.6" font-family="Liberation Sans" font-size="5.2" font-weight="bold" fill="#222">5</text>
<text x="467.2" y="382.3" font-family="Liberation Sans" font-size="5.2" font-weight="bold" fill="#222">6</text>
<text x="467.2" y="392.0" font-family="Liberation Sans" font-size="5.2" font-weight="bold" fill="#222">7</text>
<text x="480.5" y="334.0" font-family="Liberation Serif" font-style="italic" font-size="9" fill="#4e4e4e" textLength="21" lengthAdjust="spacingAndGlyphs">CH₁ -</text>
<text x="523" y="334.0" font-family="Liberation Serif" font-style="italic" font-size="9" fill="#4e4e4e" textLength="16" lengthAdjust="spacingAndGlyphs">78</text>
<text x="480.5" y="343.8" font-family="Liberation Serif" font-style="italic" font-size="9" fill="#4e4e4e" textLength="21" lengthAdjust="spacingAndGlyphs">CH₂ -</text>
<text x="523" y="343.8" font-family="Liberation Serif" font-style="italic" font-size="9" fill="#4e4e4e" textLength="16" lengthAdjust="spacingAndGlyphs">69</text>
<text x="480.5" y="353.5" font-family="Liberation Serif" font-style="italic" font-size="9" fill="#4e4e4e" textLength="21" lengthAdjust="spacingAndGlyphs">CH₃ :</text>
<text x="524" y="353.5" font-family="Liberation Serif" font-style="italic" font-size="9" fill="#4e4e4e" textLength="16" lengthAdjust="spacingAndGlyphs">82</text>
<text x="481.5" y="363.3" font-family="Liberation Serif" font-style="italic" font-size="9" fill="#4e4e4e" textLength="21" lengthAdjust="spacingAndGlyphs">CH₄ :</text>
<text x="524" y="363.3" font-family="Liberation Serif" font-style="italic" font-size="9" fill="#4e4e4e" textLength="16" lengthAdjust="spacingAndGlyphs">97</text>
<text x="481.5" y="373.20000000000005" font-family="Liberation Serif" font-style="italic" font-size="9" fill="#4e4e4e" textLength="21" lengthAdjust="spacingAndGlyphs">CH5 :</text>
<text x="524" y="373.20000000000005" font-family="Liberation Serif" font-style="italic" font-size="9" fill="#4e4e4e" textLength="16" lengthAdjust="spacingAndGlyphs">77</text>
<text x="481.5" y="382.90000000000003" font-family="Liberation Serif" font-style="italic" font-size="9" fill="#4e4e4e" textLength="21" lengthAdjust="spacingAndGlyphs">CH6 -</text>
<text x="524" y="382.90000000000003" font-family="Liberation Serif" font-style="italic" font-size="9" fill="#4e4e4e" textLength="16" lengthAdjust="spacingAndGlyphs">74</text>
<text x="481.5" y="392.6" font-family="Liberation Serif" font-style="italic" font-size="9" fill="#4e4e4e" textLength="20" lengthAdjust="spacingAndGlyphs">CH7 -</text>
<text x="524" y="392.6" font-family="Liberation Serif" font-style="italic" font-size="9" fill="#4e4e4e" textLength="17" lengthAdjust="spacingAndGlyphs">112</text>
<path d="M531,361.5 L542,358" fill="none" stroke="#4a4a4a" stroke-width="0.8" stroke-linecap="round" stroke-linejoin="round"/>
<path d="M531,371.5 L542,368" fill="none" stroke="#4a4a4a" stroke-width="0.8" stroke-linecap="round" stroke-linejoin="round"/>
</svg>
</body></html>
